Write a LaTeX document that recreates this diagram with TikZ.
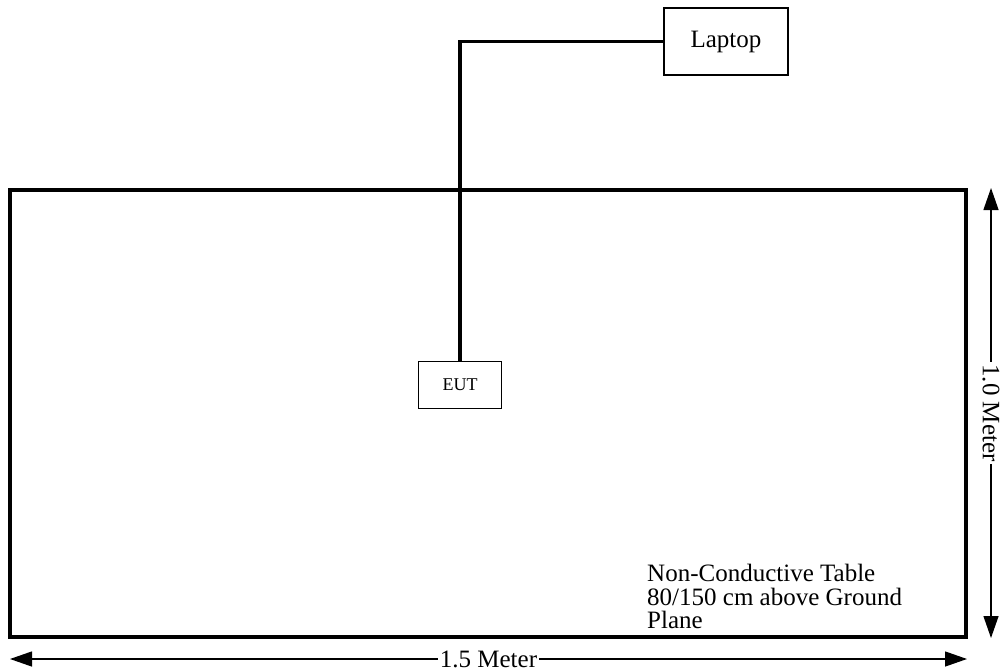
\documentclass[tikz,border=0pt]{standalone}
\usepackage{fontspec}
\setmainfont{Liberation Serif}
\usetikzlibrary{arrows.meta}

\begin{document}
\begin{tikzpicture}[x=1pt,y=-1pt]
	\tikzset{box/.style = {shape=rectangle,draw,line width=1.5pt,inner sep=0pt}}
	\tikzset{cable/.style = {line width=3.5pt}}
	\tikzset{dim/.style = {line width=1.3pt,
			{Triangle[length=22pt,width=15pt]}-{Triangle[length=22pt,width=15pt]}}}
	\tikzset{big/.style = {font=\fontsize{25}{23.5}\selectfont}}
	\useasboundingbox (0,0) rectangle (1005,672);
    % table and devices
    \node[box,line width=3.5pt,minimum width=956pt,minimum height=447pt] (table) at (488,413.5) {};
    \node[box,big,minimum width=124pt,minimum height=67pt] (laptop) at (726,41.5) {Laptop};
    \node[box,minimum width=83pt,minimum height=47pt,font=\fontsize{18}{18}\selectfont] (eut) at (460,385) {EUT};
    \node[big,anchor=north west,align=left,inner sep=0pt] (note) at (647,564)
        {Non-Conductive Table\\80/150 cm above Ground\\Plane};
    % dimension ends
    \coordinate (htop) at (991,188);
    \coordinate (hbot) at (991,638);
    \coordinate (wleft) at (10,659);
    \coordinate (wright) at (967,659);
    % cable
    \draw[cable] (eut.north) |- (laptop.west);
    % dimensions
    \draw[dim] (htop) -- node[big,fill=white,inner sep=2pt,rotate=-90] {1.0 Meter} (hbot);
    \draw[dim] (wleft) -- node[big,fill=white,inner sep=2pt] {1.5 Meter} (wright);
\end{tikzpicture}
\end{document}
